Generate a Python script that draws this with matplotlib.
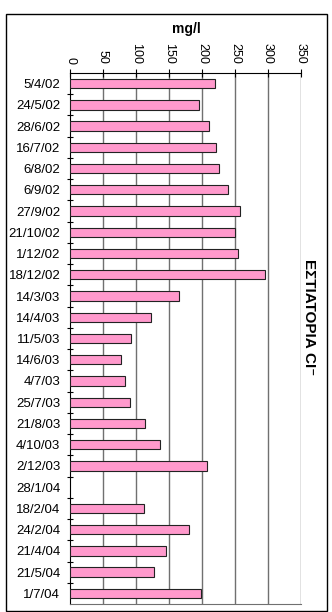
import numpy as np
import matplotlib.pyplot as plt
from matplotlib.patches import Rectangle

plt.rcParams['font.family'] = ['Liberation Sans', 'DejaVu Sans']

dates = ['5/4/02', '24/5/02', '28/6/02', '16/7/02', '6/8/02', '6/9/02',
         '27/9/02', '21/10/02', '1/12/02', '18/12/02', '14/3/03', '14/4/03',
         '11/5/03', '14/6/03', '4/7/03', '25/7/03', '21/8/03', '4/10/03',
         '2/12/03', '28/1/04', '18/2/04', '24/2/04', '21/4/04', '21/5/04',
         '1/7/04']
cl_values = [219, 195, 211, 221, 225, 240,
             258, 250, 255, 295, 165, 122,
             92, 77, 83, 91, 113, 137,
             208, np.nan, 112, 180, 145, 127,
             199]
xticks = [0, 50, 100, 150, 200, 250, 300, 350]

fig = plt.figure(figsize=(3.32, 6.12), dpi=100)
# outer frame of the chart
fig.patches.append(Rectangle((6 / 332, 1 / 612), 321 / 332, 597 / 612,
                             transform=fig.transFigure, fill=False,
                             edgecolor='black', linewidth=1.0))

ax = fig.add_axes([70 / 332, 8 / 612, 231 / 332, 531 / 612])
ypos = np.arange(len(dates))
ax.barh(ypos, cl_values, height=0.44, color='#ff99cc',
        edgecolor='#222222', linewidth=0.8, zorder=3)

ax.set_xlim(0, 350)
ax.set_ylim(len(dates) - 0.5, -0.5)
ax.set_xticks(xticks)
ax.xaxis.tick_top()
ax.tick_params(axis='x', direction='inout', length=6, width=0.8, pad=3.5,
               labelsize=9, labelrotation=-90)
ax.set_yticks(ypos)
ax.set_yticklabels(dates)
ax.tick_params(axis='y', length=0, pad=7, labelsize=9.5)
ax.set_yticks(ypos[:-1] + 0.5, minor=True)
ax.tick_params(axis='y', which='minor', direction='inout', length=5, width=0.8)

for x in xticks[1:]:
    ax.axvline(x, color='#707070', linewidth=1.0, zorder=1)

ax.spines['left'].set_color('black')
ax.spines['top'].set_color('black')
ax.spines['right'].set_visible(False)
ax.spines['bottom'].set_color('#707070')

fig.text(186 / 332, 1 - 29 / 612, 'mg/l', ha='center', va='center',
         fontsize=10, fontweight='bold')
fig.text(309 / 332, 1 - 317 / 612, 'ΕΣΤΙΑΤΟΡΙΑ CI⁻', ha='center', va='center',
         rotation=-90, fontsize=11, fontweight='bold')

fig.savefig('out.png', dpi=100)
